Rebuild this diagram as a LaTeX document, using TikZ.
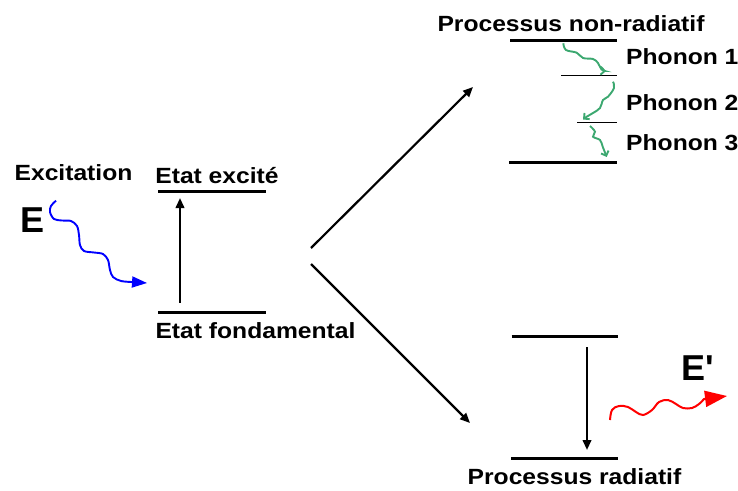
\documentclass[tikz,border=0pt]{standalone}
\usepackage{fontspec}
\setmainfont{Liberation Sans}[FakeStretch=1.12]
\newfontfamily\bigfont{Liberation Sans}
\usetikzlibrary{arrows.meta}
\definecolor{phgreen}{RGB}{60,168,112}
\tikzset{
  lab/.style={font=\fontsize{22}{25}\selectfont\bfseries, inner sep=0pt, anchor=base},
  labw/.style={lab, anchor=base west},
  biglab/.style={font=\bigfont\fontsize{36}{40}\selectfont\bfseries, inner sep=0pt, anchor=base west},
  level/.style={line width=3pt},
  sublevel/.style={line width=1.6pt},
  trans/.style={line width=2.2pt, -{Triangle[length=10pt,width=8.5pt]}},
  phonon/.style={phgreen, line width=1.9pt, -{Straight Barb[length=4pt,width=8pt]}},
  photonin/.style={blue, line width=1.9pt, -{Triangle[length=15pt,width=11pt]}},
  photonout/.style={red, line width=2pt, -{Triangle[length=22pt,width=16pt]}},
}
\begin{document}
\begin{tikzpicture}[x=1pt,y=-1pt]
\useasboundingbox (0,0) rectangle (738,490);
% texts
\node[lab] (exc) at (73.5,180.7) {Excitation};
\node[biglab] (E) at (20,232) {E};
\node[lab] (ee) at (217,183.3) {Etat excité};
\node[lab] (ef) at (255.5,338.3) {Etat fondamental};
\node[lab] (pnr) at (571,31) {Processus non-radiatif};
\node[labw] (ph1) at (626,64) {Phonon 1};
\node[labw] (ph2) at (626,110) {Phonon 2};
\node[labw] (ph3) at (626,150) {Phonon 3};
\node[lab] (pr) at (574.5,484) {Processus radiatif};
\node[biglab] (Ep) at (681,380) {E'};
% levels
\coordinate (e1a) at (158,191.5); \coordinate (e1b) at (266,191.5);
\coordinate (g1a) at (158,312.7); \coordinate (g1b) at (266,312.7);
\draw[level] (e1a) -- (e1b);
\draw[level] (g1a) -- (g1b);
\coordinate (nrTa) at (510,40); \coordinate (nrTb) at (617,40);
\coordinate (nrBa) at (509,162); \coordinate (nrBb) at (617,162);
\coordinate (s1a) at (561,75.5); \coordinate (s1b) at (617,75.5);
\coordinate (s2a) at (577,122.5); \coordinate (s2b) at (617,122.5);
\draw[level] (nrTa) -- (nrTb);
\draw[level] (nrBa) -- (nrBb);
\draw[sublevel] (s1a) -- (s1b);
\draw[sublevel] (s2a) -- (s2b);
\coordinate (rTa) at (511.5,336.5); \coordinate (rTb) at (618,336.5);
\coordinate (rBa) at (511,458.5); \coordinate (rBb) at (618,458.5);
\draw[level] (rTa) -- (rTb);
\draw[level] (rBa) -- (rBb);
% transitions
\coordinate (upS) at (180,302.5); \coordinate (upE) at (180,198);
\draw[trans] (upS) -- (upE);
\coordinate (fork1) at (311,248); \coordinate (fork1e) at (473,87);
\coordinate (fork2) at (311,264); \coordinate (fork2e) at (470,423);
\draw[trans] (fork1) -- (fork1e);
\draw[trans] (fork2) -- (fork2e);
\coordinate (dnS) at (587,347); \coordinate (dnE) at (587,450);
\draw[trans] (dnS) -- (dnE);
% photons
\draw[photonin] plot[smooth, tension=0.55] coordinates {(56,200.7) (51,206) (50,212) (54,219) (62,220.5) (71,221) (77,226) (79,235) (80,245) (84,251) (94,252.5) (103,254) (108,260) (110,270) (113,277) (121,281) (132,282)} -- (147,283);
\draw[photonout] plot[smooth, tension=0.6] coordinates {(610,420) (612,410) (619,406) (628,407) (636,412) (643,415) (652,410) (659,402) (668,400) (676,404) (683,408) (692,408) (699,404) (704,399)} -- (727,396);
% phonons
\draw[phonon] plot[smooth, tension=0.6] coordinates {(563.3,43.3) (566,50) (576.7,52.7) (583,58) (593,59) (598,63) (601.5,69.5) (606,71)};
\draw[phonon] plot[smooth, tension=0.6] coordinates {(613,81.7) (614,88) (608,96.7) (603,100) (600,108) (593,113) (586.7,116.7) (583,119.5)};
\draw[phonon] plot[smooth, tension=0.6] coordinates {(590,126) (595,131.7) (593,136.7) (600,140) (602.7,146.7) (606.7,157)};
\end{tikzpicture}
\end{document}
